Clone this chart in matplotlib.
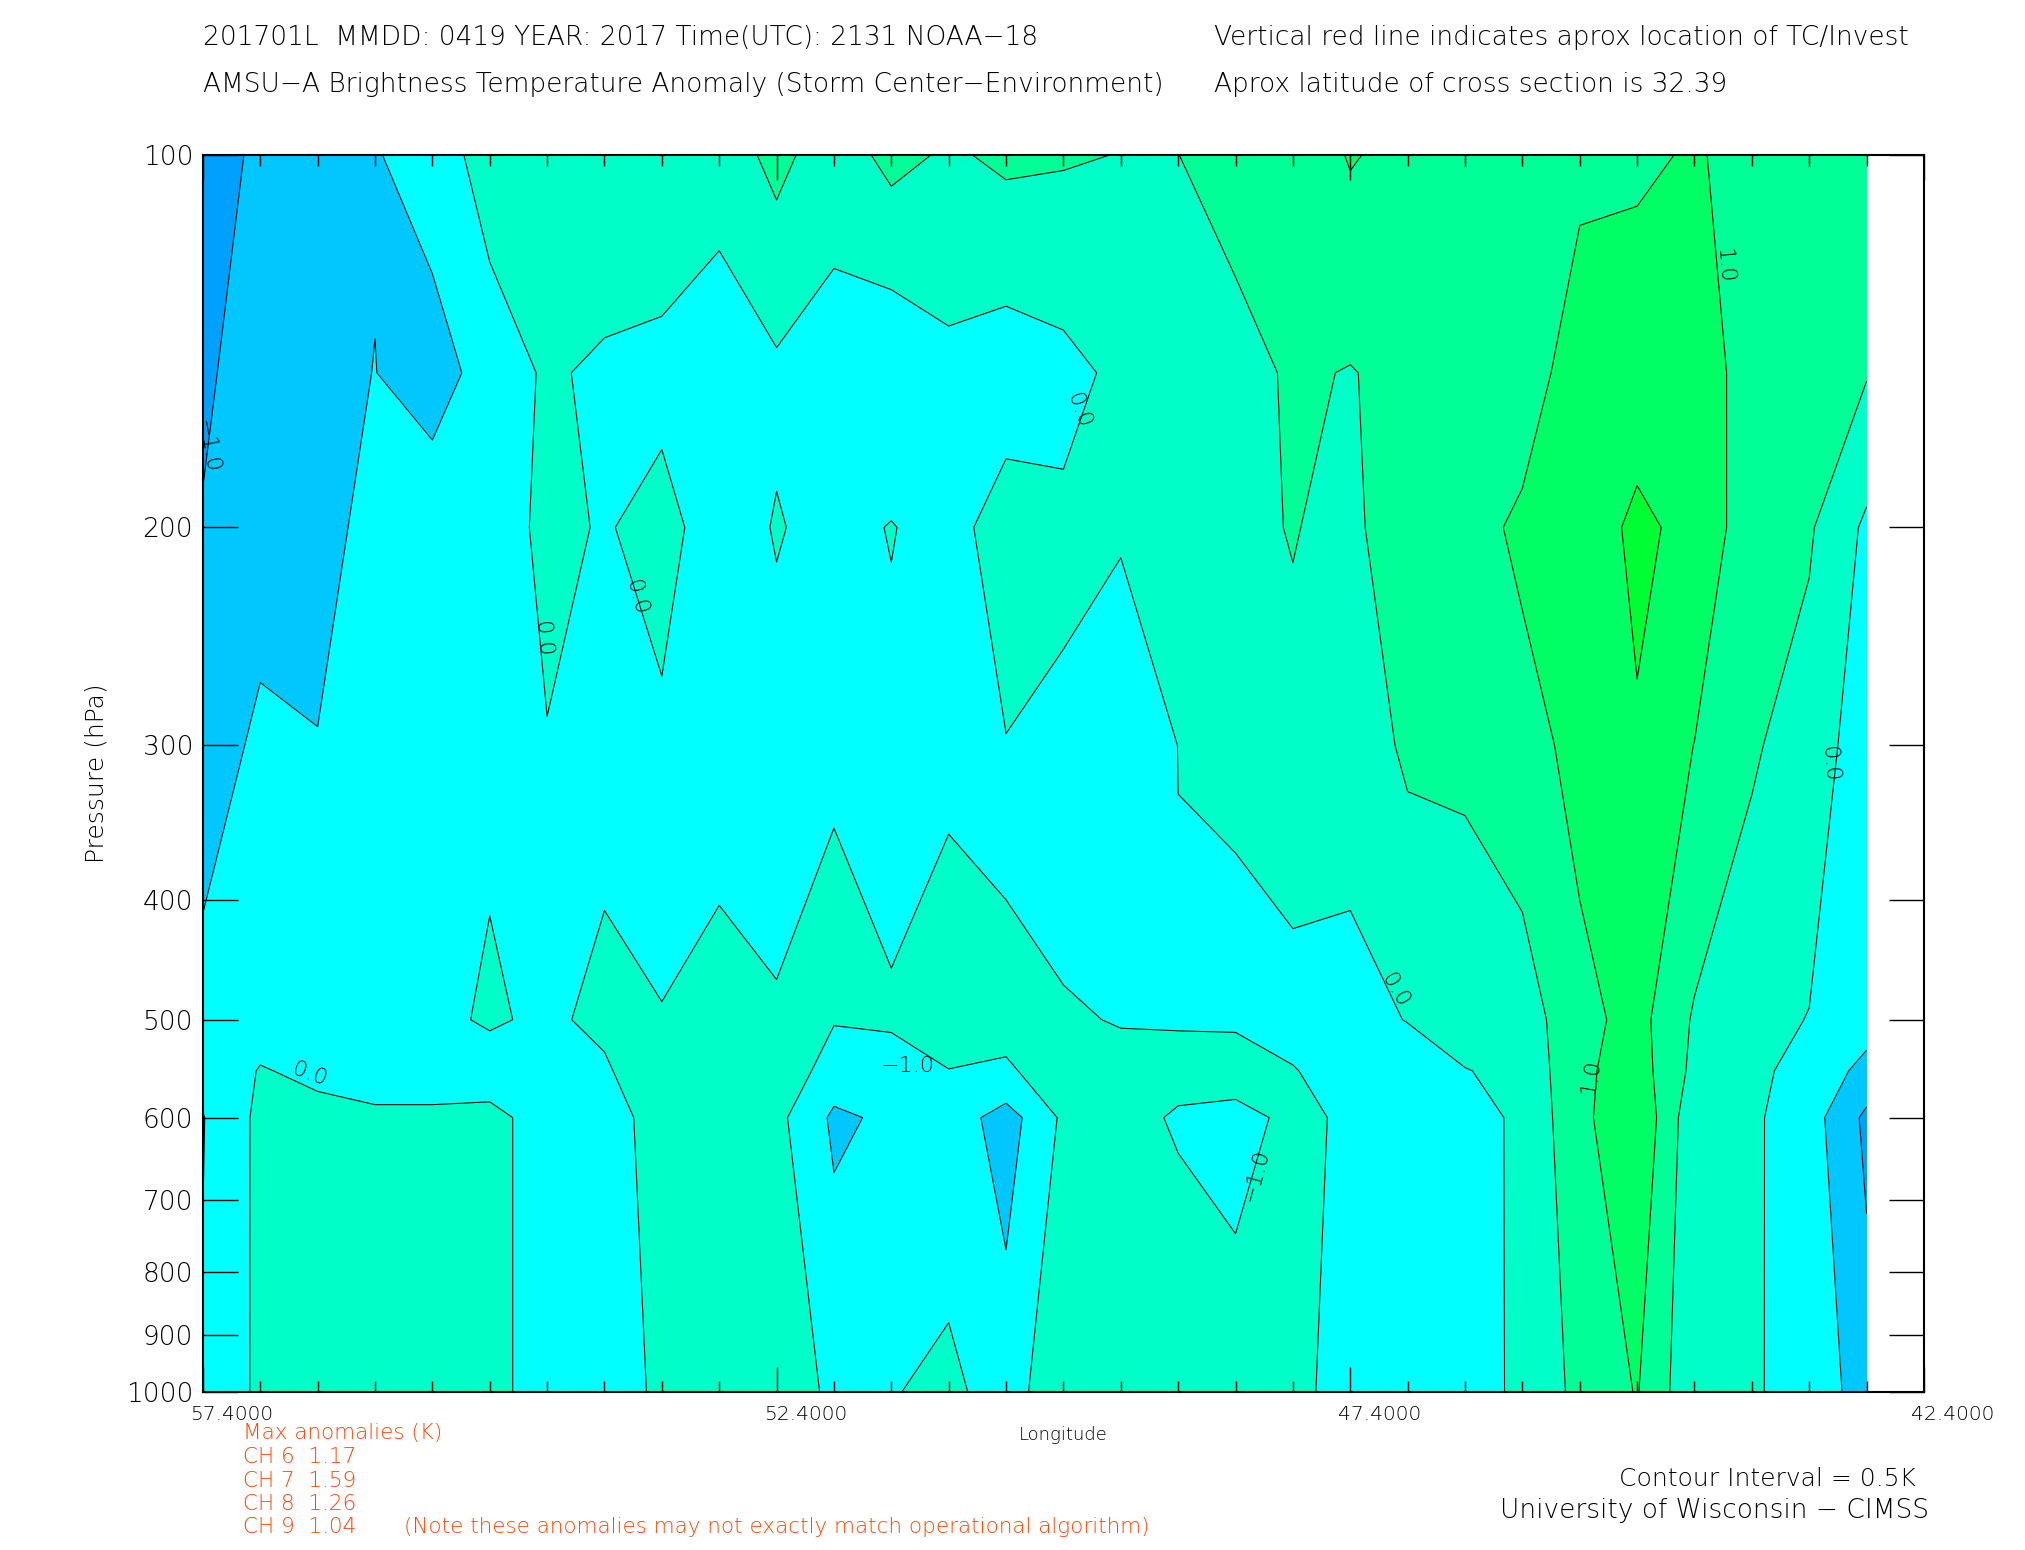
import matplotlib
matplotlib.use("Agg")
import matplotlib.pyplot as plt
import matplotlib.transforms as mtransforms
from matplotlib.ticker import FixedLocator, NullLocator
import numpy as np

# cross section grid: longitude columns (deg) and pressure rows (hPa)
lon = [57.4, 56.9, 56.4, 55.9, 55.4, 54.9, 54.4, 53.9, 53.4, 52.9,
       52.4, 51.9, 51.4, 50.9, 50.4, 49.9, 49.4, 48.9, 48.4, 47.9,
       47.4, 46.9, 46.4, 45.9, 45.4, 44.9, 44.4, 43.9, 43.4, 42.9]
pres = [100, 150, 200, 300, 500, 550, 600, 1000]

# brightness temperature anomaly (K), one list per pressure row
t100 = [-1.15, -0.94, -0.744, -0.544, -0.207, 0.17, 0.25, 0.3, 0.35, 0.253,
        0.627, 0.253, 0.633, 0.44, 0.585, 0.541, 0.49, 0.496, 0.7, 0.7,
        1.033, 0.868, 0.85, 0.87, 0.9, 0.91, 1.05, 0.823, 0.75, 0.7]
t150 = [-1.1, -0.7, -0.66, -0.49, -0.8, -0.216, 0.051, -0.07, -0.15, -0.396,
        -0.1, -0.285, -0.478, -0.147, -0.315, -0.161, 0.117, 0.2, 0.308, 0.571,
        0.475, 0.654, 0.7, 0.743, 1.257, 1.36, 1.2, 0.843, 0.7, 0.529]
t200 = [-0.959, -0.8, -0.65, -0.367, -0.05, -0.274, 0.123, -0.041, 0.176, -0.264,
        0.035, -0.171, 0.025, -0.225, 0.29, 0.112, 0.05, 0.25, 0.42, 0.516,
        0.4, 0.785, 0.8, 1.1, 1.338, 1.56, 1.417, 0.672, 0.559, -0.093]
t300 = [-0.9, -0.352, -0.483, -0.35, -0.3, -0.051, -0.023, -0.094, -0.1, -0.163,
        -0.228, -0.01, -0.162, -0.111, -0.02, -0.108, -0.381, 0.005, 0.02, 0.398,
        0.235, 0.575, 0.56, 0.8, 1.157, 1.468, 0.99, 0.56, 0.26, -0.26]
t500 = [-0.173, -0.2, -0.2, -0.15, -0.08, 0.04, -0.06, 0.08, 0.009, 0.15,
        0.05, 0.03, 0.048, 0.3, 0.02, 0.02, -0.01, -0.03, -0.04, -0.254,
        -0.2, 0.02, 0.274, 0.251, 0.844, 1.176, 0.441, 0.146, -0.015, -0.29]
t550 = [-0.35, 0.027, -0.09, -0.2, -0.2, -0.15, -0.15, -0.049, 0.278, 0.25,
        0.375, -0.24, -0.15, -0.0125, -0.008, 0.03, 0.0525, 0.113, 0.127, 0.035,
        -0.3, -0.3, -0.02, 0.134, 0.897, 1.24, 0.37, 0.11, -0.17, -0.65]
t600 = [-0.52, 0.114, 0.12, 0.08, 0.08, 0.08, -0.12, -0.1, 0.096, 0.15,
        0.138, -0.587, -0.413, -0.207, -0.73, 0.09, 0.12, -0.04, -0.085, 0.06,
        -0.04, -0.25, -0.21, 0.1, 0.86, 1.447, 0.131, 0.078, -0.275, -1.108]
t1000 = [-0.45, 0.10, 0.12, 0.12, 0.12, 0.10, -0.15, -0.3, 0.11, 0.2,
         0.15, -0.05, -0.02, 0.09, -0.18, 0.28, 0.3, 0.35, 0.15, 0.2,
         -0.3, -0.3, -0.31, 0.14, 0.62, 1.03, 0.10, 0.05, -0.18, -0.74]

line_levels = [-1.0, -0.5, 0.0, 0.5, 1.0, 1.5]
band_colors = ['#00a0ff', '#00c8ff', '#00ffff', '#00ffc8',
               '#00ff96', '#00ff64', '#00ff32']

# contour labels as drawn by IDL: (lon, pressure, text, rotation)
clabels = [(57.36, 172, '\u22121.0', -80),
           (54.44, 246, '0.0', -85),
           (53.62, 228, '0.0', -75),
           (49.77, 161, '0.0', -70),
           (44.14, 123, '1.0', -85),
           (56.47, 554, '0.0', -20),
           (51.26, 545, '\u22121.0', 0),
           (43.22, 311, '0.0', -85),
           (47.01, 473, '0.0', -60),
           (45.30, 556, '1.0', 80),
           (48.22, 668, '\u22121.0', 75)]

yticks = [100, 200, 300, 400, 500, 600, 700, 800, 900, 1000]
xticks = [57.4, 52.4, 47.4, 42.4]

max_anom = [('6', '1.17'), ('7', '1.59'), ('8', '1.26'), ('9', '1.04')]

plt.rcParams['font.family'] = ['DejaVu Sans']
plt.rcParams['font.weight'] = 'light'

fig = plt.figure(figsize=(20.25, 15.5), dpi=100)
ax = fig.add_axes([0.1002, 0.1019, 0.8499, 0.7981])

anom = np.array([t100, t150, t200, t300, t500, t550, t600, t1000])
X, Y = np.meshgrid(lon, pres)

fill_levels = [-5.0] + line_levels + [5.0]
ax.contourf(X, Y, anom, levels=fill_levels, colors=band_colors)
ax.contour(X, Y, anom, levels=line_levels, colors='black', linewidths=0.75,
           linestyles='solid')

for lx, ly, txt, rot in clabels:
    ax.text(lx, ly, txt, fontsize=16, rotation=rot, ha='center', va='center',
            rotation_mode='anchor', color='black', clip_on=True)

ax.set_yscale('log')
ax.set_ylim(1000, 100)
ax.set_xlim(57.4, 42.4)

ax.yaxis.set_major_locator(FixedLocator(yticks))
ax.yaxis.set_minor_locator(NullLocator())
ax.set_yticklabels([str(v) for v in yticks])

ax.xaxis.set_major_locator(FixedLocator(xticks))
ax.xaxis.set_minor_locator(FixedLocator(np.arange(42.9, 57.4, 0.5)))
ax.set_xticklabels(['%.4f' % v for v in xticks])

ax.tick_params(axis='y', which='major', direction='in', length=25, width=1.0,
               left=True, right=True, labelsize=19, pad=7)
ax.tick_params(axis='x', which='major', direction='in', length=18, width=1.0,
               top=True, bottom=True, labelsize=14.5, pad=9)
ax.tick_params(axis='x', which='minor', direction='in', length=8, width=1.0,
               top=True, bottom=True)

# IDL puts the longitude labels a little right of their ticks
shift = mtransforms.ScaledTranslation(0.29, 0, fig.dpi_scale_trans)
for lbl in ax.get_xticklabels():
    lbl.set_transform(lbl.get_transform() + shift)

for sp in ax.spines.values():
    sp.set_linewidth(1.5)

ax.set_ylabel('Pressure (hPa)', fontsize=18, fontweight='light')
ax.yaxis.set_label_coords(-0.055, 0.5)
fig.text(0.525, 0.074, 'Longitude', fontsize=13, ha='center', va='center')

# header
fig.text(0.1002, 0.9758, '201701L  MMDD: 0419 YEAR: 2017 Time(UTC): 2131 NOAA\u221218',
         fontsize=19, ha='left', va='center')
fig.text(0.1002, 0.9458,
         'AMSU\u2212A Brightness Temperature Anomaly (Storm Center\u2212Environment)',
         fontsize=19, ha='left', va='center')
fig.text(0.5995, 0.9758, 'Vertical red line indicates aprox location of TC/Invest',
         fontsize=19, ha='left', va='center')
fig.text(0.5995, 0.9458, 'Aprox latitude of cross section is 32.39',
         fontsize=19, ha='left', va='center')

# max anomalies block
red = '#ff4500'
fig.text(0.12, 0.0755, 'Max anomalies (K)', fontsize=15.5, color=red,
         ha='left', va='center')
ys = [0.0600, 0.0448, 0.0300, 0.0148]
for (ch, val), yy in zip(max_anom, ys):
    fig.text(0.12, yy, 'CH %s  %s' % (ch, val), fontsize=15.5, color=red,
             ha='left', va='center')
fig.text(0.1995, 0.0148,
         '(Note these anomalies may not exactly match operational algorithm)',
         fontsize=15.5, color=red, ha='left', va='center')

fig.text(0.946, 0.0458, 'Contour Interval = 0.5K', fontsize=18,
         ha='right', va='center')
fig.text(0.9525, 0.0258, 'University of Wisconsin \u2212 CIMSS', fontsize=19,
         ha='right', va='center')

fig.savefig('out.png', dpi=100)
